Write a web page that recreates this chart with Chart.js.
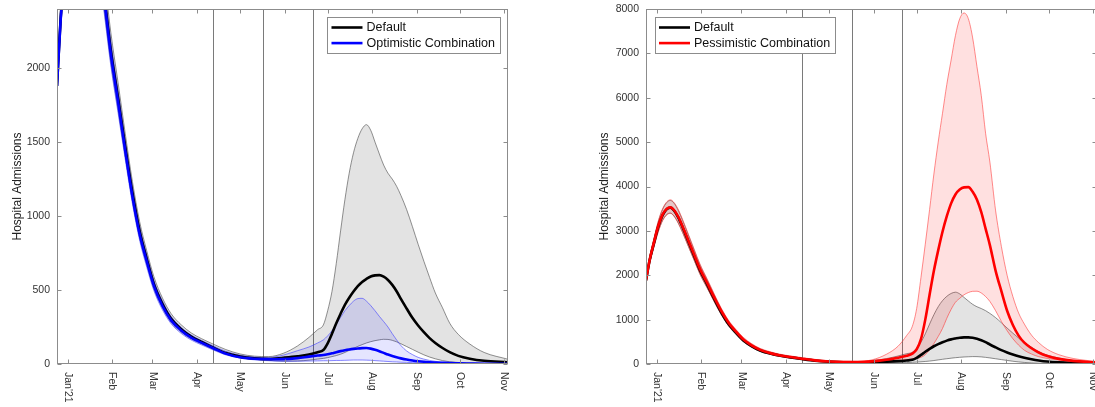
<!DOCTYPE html>
<html>
<head>
<meta charset="utf-8">
<title>Hospital admissions scenarios</title>
<script src="https://cdn.jsdelivr.net/npm/chart.js@4.4.1/dist/chart.umd.min.js"></script>
<style>
    html, body { margin: 0; padding: 0; background: #fff; overflow: hidden; width: 1095px; height: 407px; }
    canvas { position: absolute; top: 0; }
    #leftChart { left: 0; }
    #rightChart { left: 586px; }
</style>
</head>
<body>
<canvas id="leftChart" width="540" height="407"></canvas>
<canvas id="rightChart" width="520" height="407"></canvas>
<script>
// days since 1 Jan 2021
const days = [-7.5, -5, -2, 1, 4, 7, 9.5, 12, 15, 18, 22, 26, 30, 35, 40, 45, 50, 55, 60, 66,
    72, 79, 86, 93, 101, 110, 120, 130, 140, 150, 160, 168, 174, 178,
    181, 184, 187, 190, 193, 196, 199, 202, 205, 208, 211, 214, 217, 220, 223, 226, 229, 232,
    236, 240, 244, 248, 252, 256, 261, 266, 272, 280, 290, 306.6];

const monthTickDays = [0, 31, 59, 90, 120, 151, 181, 212, 243, 273, 304];
const monthLabels = ["Jan'21", 'Feb', 'Mar', 'Apr', 'May', 'Jun', 'Jul', 'Aug', 'Sep', 'Oct', 'Nov'];
const stepDays = [101, 136, 171];

const xMin = -7.5;
const xMax = 306.6;
const leftYMax = 2400;
const leftYTicks = [0, 500, 1000, 1500, 2000];
const rightYMax = 8000;
const rightYTicks = [0, 1000, 2000, 3000, 4000, 5000, 6000, 7000, 8000];

// Default scenario
const defMid = [1880, 2330, 2720, 3090, 3350, 3490, 3525, 3460, 3300, 3080, 2760, 2440, 2120, 1800, 1470, 1160, 900, 710, 540, 405,
    305, 235, 185, 150, 112, 74, 50, 38, 34, 42, 52, 64, 80, 95,
    140, 205, 275, 340, 400, 448, 490, 527, 555, 575, 592, 599, 601, 590, 568, 535, 492, 440,
    375, 312, 260, 215, 175, 142, 108, 80, 55, 36, 22, 12];
const defHi = [1920, 2390, 2810, 3200, 3480, 3640, 3685, 3625, 3460, 3235, 2905, 2570, 2240, 1905, 1560, 1235, 965, 765, 590, 445,
    340, 265, 210, 172, 136, 98, 68, 53, 50, 72, 122, 180, 232, 264,
    360, 490, 680, 900, 1110, 1290, 1428, 1525, 1590, 1618, 1580, 1500, 1420, 1345, 1290, 1250, 1202, 1140,
    1044, 930, 810, 695, 585, 480, 380, 276, 200, 135, 78, 32];
const defLo = [1850, 2270, 2640, 2985, 3235, 3370, 3400, 3335, 3175, 2965, 2655, 2345, 2035, 1720, 1405, 1105, 855, 672, 508, 378,
    282, 216, 170, 137, 102, 67, 43, 31, 25, 19, 20, 26, 33, 38,
    43, 50, 57, 66, 78, 92, 106, 119, 131, 142, 151, 158, 163, 167, 166, 160, 150, 137,
    118, 99, 80, 62, 47, 35, 23, 15, 10, 6, 4, 2];

// Optimistic combination
const optMid = [1880, 2320, 2705, 3075, 3335, 3475, 3510, 3445, 3285, 3065, 2745, 2420, 2095, 1775, 1445, 1135, 880, 695, 528, 392,
    295, 227, 178, 144, 108, 70, 45, 35, 32, 33, 40, 50, 57, 61,
    66, 72, 80, 87, 93, 98, 102, 105, 107, 108, 104, 96, 86, 75, 64, 54, 45, 38,
    30, 24, 19, 15, 12, 10, 8, 6, 4, 3, 2, 2];
const optHi = [1905, 2370, 2775, 3160, 3430, 3580, 3620, 3555, 3390, 3165, 2840, 2505, 2180, 1850, 1510, 1195, 930, 738, 565, 425,
    322, 248, 196, 160, 124, 86, 60, 46, 44, 60, 90, 115, 142, 163,
    190, 225, 270, 315, 360, 395, 425, 442, 444, 425, 395, 360, 322, 287, 250, 205, 163, 125,
    88, 64, 45, 33, 24, 18, 12, 8, 5, 3, 2, 1];
const optLo = [1840, 2250, 2620, 2965, 3210, 3350, 3380, 3315, 3155, 2945, 2635, 2325, 2015, 1700, 1385, 1085, 838, 655, 495, 365,
    272, 207, 162, 130, 96, 62, 40, 28, 22, 18, 19, 20, 21, 22,
    22, 23, 24, 24, 25, 26, 27, 27, 27, 26, 25, 23, 21, 19, 17, 15, 14, 12,
    11, 9, 7, 6, 5, 4, 3, 3, 2, 2, 1, 1];

// Pessimistic combination
const pesMid = [1885, 2340, 2735, 3105, 3365, 3500, 3530, 3470, 3315, 3100, 2785, 2465, 2150, 1830, 1500, 1190, 930, 735, 560, 420,
    318, 245, 193, 157, 120, 82, 55, 45, 45, 60, 95, 140, 185, 235,
    330, 560, 1000, 1560, 2100, 2560, 2980, 3330, 3620, 3820, 3930, 3980, 3985, 3880, 3700, 3420, 3050, 2680,
    2100, 1640, 1200, 880, 640, 480, 355, 260, 180, 115, 70, 36];
const pesHi = [1925, 2400, 2825, 3215, 3495, 3655, 3700, 3640, 3480, 3255, 2925, 2590, 2260, 1925, 1580, 1255, 985, 785, 608, 460,
    352, 276, 220, 182, 145, 105, 75, 62, 58, 95, 220, 400, 640, 850,
    1250, 1950, 2700, 3480, 4280, 5000, 5650, 6300, 6850, 7400, 7780, 7910, 7780, 7350, 6700, 6050, 5200, 4550,
    3450, 2650, 2000, 1520, 1150, 900, 650, 480, 330, 210, 125, 53];
const pesLo = [1845, 2260, 2630, 2975, 3225, 3360, 3395, 3330, 3170, 2960, 2650, 2340, 2030, 1720, 1405, 1110, 862, 680, 515, 385,
    288, 222, 175, 142, 107, 72, 48, 37, 35, 40, 60, 85, 100, 115,
    125, 150, 210, 320, 460, 620, 800, 1030, 1230, 1390, 1480, 1560, 1610, 1638, 1640, 1600, 1520, 1410,
    1200, 960, 750, 570, 425, 310, 225, 165, 125, 90, 60, 30];

const FONT = "Helvetica, 'Liberation Sans', Arial, sans-serif";
const FRAME = '#8c8c8c';

function pts(values) {
    return days.map((d, i) => ({ x: d, y: values[i] }));
}

function midLine(label, values, color) {
    return {
        label, data: pts(values), borderColor: color, borderWidth: 2.6,
        pointRadius: 0, cubicInterpolationMode: 'monotone', fill: false
    };
}

function edgeLine(values, color, fillTarget, fillColor) {
    return {
        label: '', data: pts(values), borderColor: color, borderWidth: 0.7,
        pointRadius: 0, cubicInterpolationMode: 'monotone',
        fill: fillTarget === undefined ? false : fillTarget,
        backgroundColor: fillColor || 'transparent'
    };
}

// MATLAB-like box axes: inward ticks on all sides, step lines, rotated month labels, legend
const matlabAxes = {
    id: 'matlabAxes',
    beforeDatasetsDraw(chart) {
        const { ctx, chartArea: a, scales: { x } } = chart;
        ctx.save();
        ctx.beginPath();
        ctx.rect(a.left, a.top, a.right - a.left, a.bottom - a.top);
        ctx.clip();
        ctx.strokeStyle = '#7a7a7a';
        ctx.lineWidth = 1;
        stepDays.forEach(d => {
            const px = Math.round(x.getPixelForValue(d)) + 0.5;
            ctx.beginPath();
            ctx.moveTo(px, a.top);
            ctx.lineTo(px, a.bottom);
            ctx.stroke();
        });
        ctx.restore();
    },
    afterDatasetsDraw(chart, args, opts) {
        const { ctx, chartArea: a, scales: { x, y } } = chart;
        ctx.save();
        ctx.strokeStyle = FRAME;
        ctx.lineWidth = 1;
        const L = Math.round(a.left) + 0.5, R = Math.round(a.right) - 0.5;
        const T = Math.round(a.top) + 0.5, B = Math.round(a.bottom) - 0.5;
        ctx.strokeRect(L, T, R - L, B - T);

        ctx.beginPath();
        monthTickDays.forEach(d => {
            const px = Math.round(x.getPixelForValue(d)) + 0.5;
            ctx.moveTo(px, B); ctx.lineTo(px, B - 4);
            ctx.moveTo(px, T); ctx.lineTo(px, T + 4);
        });
        y.ticks.forEach(t => {
            const py = Math.round(y.getPixelForValue(t.value)) + 0.5;
            ctx.moveTo(L, py); ctx.lineTo(L + 4, py);
            ctx.moveTo(R, py); ctx.lineTo(R - 4, py);
        });
        ctx.stroke();

        // month labels, rotated clockwise
        ctx.fillStyle = '#333';
        ctx.font = '10.5px ' + FONT;
        ctx.textAlign = 'left';
        ctx.textBaseline = 'middle';
        monthTickDays.forEach((d, i) => {
            ctx.save();
            ctx.translate(x.getPixelForValue(d), a.bottom + 8);
            ctx.rotate(Math.PI / 2);
            ctx.fillText(monthLabels[i], 0, 0);
            ctx.restore();
        });

        // legend
        const items = opts.items.map(i => chart.data.datasets[i]);
        ctx.font = '12.5px ' + FONT;
        const textW = Math.max(...items.map(d => ctx.measureText(d.label).width));
        const boxW = 4 + 31 + 4 + textW + 5;
        const boxH = 36;
        const x0 = opts.side === 'right' ? a.right - 8 - boxW : a.left + 9;
        const y0 = a.top + 8;
        ctx.fillStyle = '#fff';
        ctx.fillRect(x0, y0, boxW, boxH);
        ctx.strokeStyle = FRAME;
        ctx.strokeRect(Math.round(x0) + 0.5, Math.round(y0) + 0.5, Math.round(boxW), boxH);
        items.forEach((d, i) => {
            const cy = y0 + 10.5 + i * 15.6;
            ctx.strokeStyle = d.borderColor;
            ctx.lineWidth = 2.6;
            ctx.beginPath();
            ctx.moveTo(x0 + 4, cy);
            ctx.lineTo(x0 + 35, cy);
            ctx.stroke();
            ctx.fillStyle = '#111';
            ctx.textBaseline = 'middle';
            ctx.fillText(d.label, x0 + 39, cy);
        });
        ctx.restore();
    }
};

function makeChart(canvasId, datasets, yMax, yTicks, axisWidth, titlePad, padRight, legendItems, legendSide) {
    return new Chart(document.getElementById(canvasId), {
        type: 'line',
        data: { datasets },
        plugins: [matlabAxes],
        options: {
            responsive: false,
            animation: false,
            layout: { padding: { left: 0, right: padRight, top: 9, bottom: 0 } },
            plugins: {
                legend: { display: false },
                tooltip: { enabled: false },
                matlabAxes: { items: legendItems, side: legendSide }
            },
            scales: {
                x: {
                    type: 'linear', min: xMin, max: xMax,
                    afterFit: s => { s.height = 43; s.paddingLeft = 0; s.paddingRight = 0; },
                    grid: { display: false, drawTicks: false },
                    border: { display: false },
                    ticks: { display: false }
                },
                y: {
                    min: 0, max: yMax,
                    afterBuildTicks: s => { s.ticks = yTicks.map(v => ({ value: v })); },
                    afterFit: s => { s.width = axisWidth; s.paddingTop = 0; s.paddingBottom = 0; },
                    grid: { display: false, drawTicks: false },
                    border: { display: false },
                    ticks: {
                        padding: 7, color: '#333',
                        font: { family: FONT, size: 10.5 },
                        callback: v => String(v)
                    },
                    title: {
                        display: true, text: 'Hospital Admissions', color: '#222',
                        font: { family: FONT, size: 12 },
                        padding: { top: titlePad, bottom: 0 }
                    }
                }
            }
        }
    });
}

// lower index is drawn on top
makeChart('leftChart', [
    midLine('Optimistic Combination', optMid, '#0000ff'),
    midLine('Default', defMid, '#000000'),
    edgeLine(optHi, 'rgba(60,60,255,0.85)', 3, 'rgba(0,0,255,0.10)'),
    edgeLine(optLo, 'rgba(60,60,255,0.85)'),
    edgeLine(defHi, 'rgba(70,70,70,0.85)', 5, 'rgba(0,0,0,0.11)'),
    edgeLine(defLo, 'rgba(70,70,70,0.85)')
], leftYMax, leftYTicks, 57, 10, 32, [1, 0], 'right');

makeChart('rightChart', [
    midLine('Pessimistic Combination', pesMid, '#ff0000'),
    midLine('Default', defMid, '#000000'),
    edgeLine(pesHi, 'rgba(255,60,60,0.85)', 3, 'rgba(255,0,0,0.12)'),
    edgeLine(pesLo, 'rgba(255,60,60,0.85)'),
    edgeLine(defHi, 'rgba(70,70,70,0.85)', 5, 'rgba(0,0,0,0.11)'),
    edgeLine(defLo, 'rgba(70,70,70,0.85)')
], rightYMax, rightYTicks, 60, 11, 9, [1, 0], 'left');
</script>
</body>
</html>
